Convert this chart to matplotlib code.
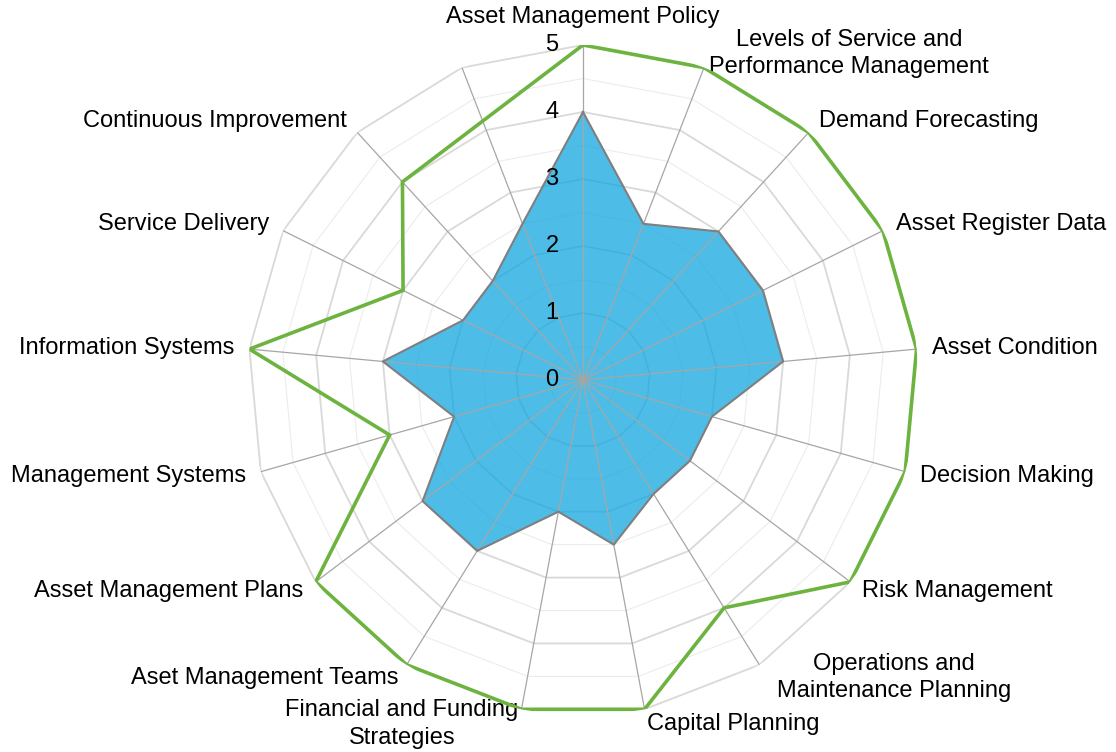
import numpy as np
import matplotlib
matplotlib.use("Agg")
import matplotlib.pyplot as plt

plt.rcParams['font.family'] = ['Liberation Sans', 'DejaVu Sans']

categories = [
    "Asset Management Policy",
    "Levels of Service and\nPerformance Management",
    "Demand Forecasting",
    "Asset Register Data",
    "Asset Condition",
    "Decision Making",
    "Risk Management",
    "Operations and\nMaintenance Planning",
    "Capital Planning",
    "Financial and Funding\nStrategies",
    "Aset Management Teams",
    "Asset Management Plans",
    "Management Systems",
    "Information Systems",
    "Service Delivery",
    "Continuous Improvement",
    "",
]
current = [4, 2.5, 3, 3, 3, 2, 2, 2, 2.5, 2, 3, 3, 2, 3, 2, 2, 2.5]
target = [5, 5, 5, 5, 5, 5, 5, 4, 5, 5, 5, 5, 3, 5, 3, 4, np.nan]
tick_values = [0, 1, 2, 3, 4, 5]

n = len(categories)
theta = np.linspace(0, 2 * np.pi, n, endpoint=False)
theta_c = np.append(theta, theta[0])

fig = plt.figure(figsize=(11.16, 7.52), dpi=100)
ax = fig.add_axes([248 / 1116, 37 / 752, 670 / 1116, 670 / 752], projection='polar')
ax.set_theta_zero_location('N')
ax.set_theta_direction(-1)
ax.set_ylim(0, 5)
ax.set_xticks([])
ax.set_yticks([])
ax.grid(False)
ax.spines['polar'].set_visible(False)
ax.patch.set_visible(False)

# polygon grid rings
for v in np.arange(0.5, 5.01, 0.5):
    major = abs(v - round(v)) < 1e-9
    ax.plot(theta_c, [v] * (n + 1),
            color='#d9d9d9' if major else '#ececec',
            lw=1.3 if major else 0.8, zorder=1, solid_joinstyle='miter')

# current fill
cur = np.array(current + [current[0]])
ax.fill(theta_c, cur, color='#11a7e1', alpha=0.75, zorder=2, lw=0)
ax.plot(theta_c, cur, color='#7f7f7f', lw=1.5, zorder=4)

# spokes
for t in theta:
    ax.plot([t, t], [0, 5], color='#a6a6a6', lw=0.9, zorder=3)

# target line (blank axis skipped)
tg = np.array(target, dtype=float)
mask = ~np.isnan(tg)
tt = np.append(theta[mask], theta[mask][0])
tv = np.append(tg[mask], tg[mask][0])
ax.plot(tt, tv, color='#6cb33f', lw=2.6, zorder=5, solid_joinstyle='miter')

# radial tick labels
for v in tick_values:
    ax.annotate(str(v), xy=(0, v), xytext=(-22.3, 0), textcoords='offset points',
                ha='center', va='center', fontsize=17, color='black', zorder=6)

# category labels
pad = 10.8
for t, lab in zip(theta, categories):
    if not lab:
        continue
    s, c = np.sin(t), np.cos(t)
    p = pad
    extra_x = 0
    if abs(s) < 0.05:
        ha = 'center'
        p = 20
    elif s > 0:
        ha = 'left'
    else:
        ha = 'right'
    if 'Operations' in lab:
        extra_x = 7
    ax.annotate(lab, xy=(t, 5), xytext=(p * s + extra_x, p * c), textcoords='offset points',
                ha=ha, va='center', multialignment='center', fontsize=17,
                linespacing=1.3, color='black', annotation_clip=False)

fig.savefig('out.png', dpi=100)
